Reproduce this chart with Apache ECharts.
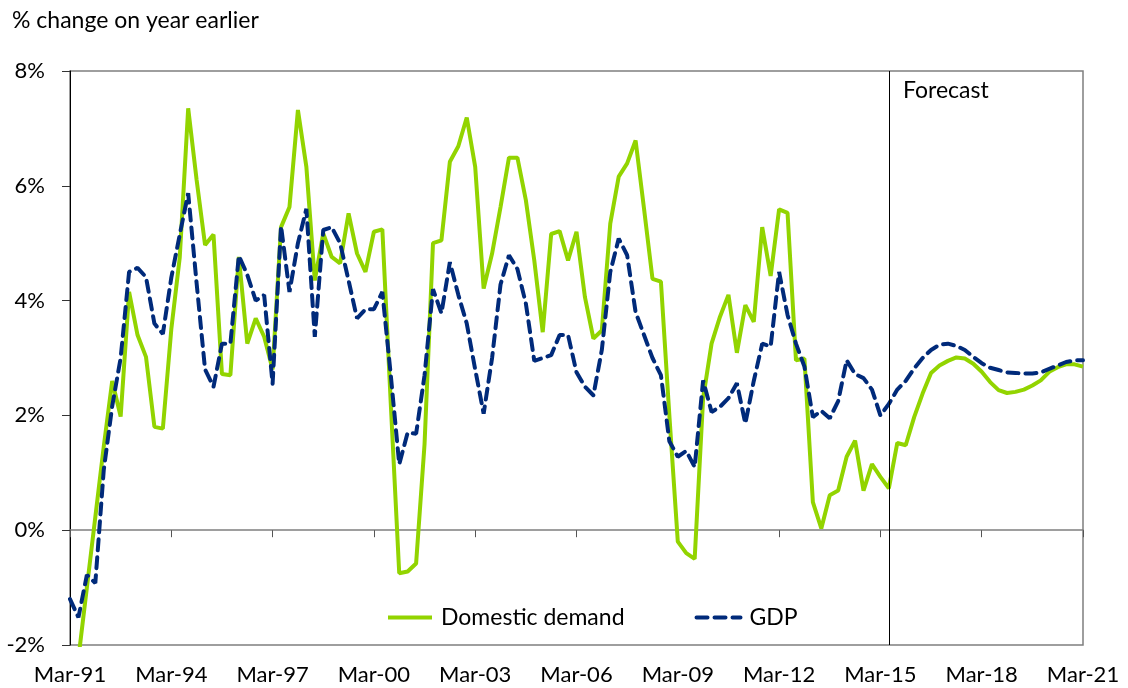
<!DOCTYPE html>
<html>
<head>
<meta charset="utf-8">
<script src="https://cdn.jsdelivr.net/npm/echarts@6/dist/echarts.min.js"></script>
<style>
  html, body { margin: 0; padding: 0; background: #fff; }
  #chart { width: 1128px; height: 688px; }
</style>
</head>
<body>
<div id="chart"></div>
<script>
// quarters Mar-91 .. Mar-21
const monthNames = ['Mar', 'Jun', 'Sep', 'Dec'];
const quarters = [];
for (let y = 1991; y <= 2021; y++) {
  for (const m of monthNames) {
    if (y === 2021 && m !== 'Mar') break;
    quarters.push(m + '-' + String(y % 100).padStart(2, '0'));
  }
}

// domestic demand, % change on year earlier
const domesticDemand = [
  -2.9, -2.23, -1.0, 0.23, 1.46, 2.6, 1.98, 4.15, 3.4, 3.02,
  1.8, 1.77, 3.5, 4.75, 7.35, 6.1, 4.97, 5.15, 2.72, 2.7,
  4.76, 3.25, 3.69, 3.37, 2.8, 5.28, 5.63, 7.32, 6.33, 4.35,
  5.17, 4.76, 4.65, 5.52, 4.82, 4.5, 5.2, 5.24, 2.2, -0.75,
  -0.72, -0.58, 1.5, 5.0, 5.05, 6.42, 6.69, 7.19, 6.33, 4.21,
  4.82, 5.63, 6.49, 6.49, 5.75, 4.7, 3.45, 5.16, 5.21, 4.7,
  5.2, 4.06, 3.34, 3.48, 5.34, 6.16, 6.39, 6.79, 5.6, 4.38,
  4.33, 2.0, -0.2, -0.4, -0.5, 2.3, 3.25, 3.72, 4.1, 3.09,
  3.92, 3.63, 5.28, 4.43, 5.59, 5.53, 2.96, 2.99, 0.49, 0.03,
  0.61, 0.69, 1.28, 1.56, 0.69, 1.15, 0.93, 0.73, 1.52, 1.48,
  1.97, 2.38, 2.74, 2.87, 2.95, 3.01, 2.99, 2.9, 2.76, 2.58,
  2.44, 2.39, 2.41, 2.45, 2.52, 2.61, 2.76, 2.84, 2.89, 2.89,
  2.85
];

// GDP, % change on year earlier
const gdp = [
  -1.2, -1.52, -0.78, -0.92, 1.05, 2.16, 3.0, 4.5, 4.57, 4.41,
  3.6, 3.42, 4.4, 5.15, 5.87, 4.3, 2.8, 2.5, 3.25, 3.25,
  4.78, 4.45, 4.0, 4.1, 2.55, 5.3, 4.15, 5.0, 5.6, 3.37,
  5.23, 5.28, 5.0, 4.35, 3.69, 3.85, 3.85, 4.15, 2.7, 1.15,
  1.7, 1.68, 2.7, 4.2, 3.78, 4.67, 4.1, 3.6, 2.8, 2.03,
  3.0, 4.28, 4.79, 4.55, 3.95, 2.95, 3.0, 3.05, 3.4, 3.4,
  2.75, 2.5, 2.35, 3.14, 4.5, 5.08, 4.79, 3.8, 3.4, 3.0,
  2.7, 1.55, 1.28, 1.38, 1.1, 2.61, 2.06, 2.15, 2.3, 2.56,
  1.86, 2.6, 3.25, 3.2, 4.5, 3.75, 3.25, 2.85, 1.97, 2.08,
  1.95, 2.25, 2.96, 2.72, 2.65, 2.45, 2.0, 2.2, 2.45, 2.6,
  2.82, 3.0, 3.14, 3.23, 3.25, 3.21, 3.14, 3.02, 2.91, 2.83,
  2.79, 2.75, 2.74, 2.73, 2.73, 2.75, 2.81, 2.87, 2.93, 2.96,
  2.96
];

const forecastStart = 'Jun-15';

const FONT = 'Lato, "Liberation Sans", sans-serif';
const GREEN = '#92d400';
const NAVY = '#002a7a';

const chart = echarts.init(document.getElementById('chart'));

chart.setOption({
  animation: false,
  textStyle: { fontFamily: FONT },
  grid: {
    left: 70, right: 45, top: 71, bottom: 43,
    show: true,
    borderColor: '#7f7f7f',
    borderWidth: 1.5
  },
  graphic: [
    {
      type: 'text', left: 12, top: 9,
      style: { text: '% change on year earlier', font: '23px ' + FONT, fill: '#000' }
    },
    {
      type: 'text', left: 903, top: 79,
      style: { text: 'Forecast', font: '23px ' + FONT, fill: '#000' }
    }
  ],
  legend: {
    left: 381, top: 601,
    itemWidth: 44, itemHeight: 4, itemGap: 70,
    textStyle: { fontSize: 23, color: '#000', padding: [0, 0, 0, 4], fontFamily: FONT },
    data: [
      { name: 'Domestic demand', lineStyle: { width: 4 } },
      { name: 'GDP', lineStyle: { width: 4 } }
    ]
  },
  xAxis: [
    {
      // 0% line with ticks
      type: 'category',
      position: 'top',
      data: quarters,
      boundaryGap: false,
      axisLine: { onZero: true, lineStyle: { color: '#7f7f7f', width: 1.5 } },
      axisTick: { inside: true, length: 7, interval: 11, lineStyle: { color: '#555' } },
      axisLabel: { show: false },
      splitLine: { show: false }
    },
    {
      // labels along the bottom
      type: 'category',
      position: 'bottom',
      data: quarters,
      boundaryGap: false,
      axisLine: { show: false, onZero: false },
      axisTick: { show: false },
      axisLabel: { interval: 11, margin: 19, fontSize: 22, color: '#000', fontFamily: FONT },
      splitLine: { show: false }
    }
  ],
  yAxis: {
    type: 'value',
    min: -2, max: 8, interval: 2,
    axisLine: { show: true, lineStyle: { color: '#000', width: 1 } },
    axisTick: { show: true, length: 8, lineStyle: { color: '#333' } },
    axisLabel: {
      margin: 25, fontSize: 22, color: '#000', fontFamily: FONT,
      formatter: v => v + '%'
    },
    splitLine: { show: false }
  },
  series: [
    {
      name: 'Domestic demand',
      type: 'line',
      xAxisIndex: 0,
      data: domesticDemand,
      symbol: 'none',
      color: GREEN,
      lineStyle: { color: GREEN, width: 4 },
      z: 2,
      markLine: {
        silent: true,
        symbol: 'none',
        label: { show: false },
        lineStyle: { color: '#000', width: 1, type: 'solid' },
        data: [{ xAxis: forecastStart }]
      }
    },
    {
      name: 'GDP',
      type: 'line',
      xAxisIndex: 0,
      data: gdp,
      symbol: 'none',
      color: NAVY,
      lineStyle: { color: NAVY, width: 4, type: [11, 7], cap: 'round' },
      z: 3
    }
  ]
});
</script>
</body>
</html>
